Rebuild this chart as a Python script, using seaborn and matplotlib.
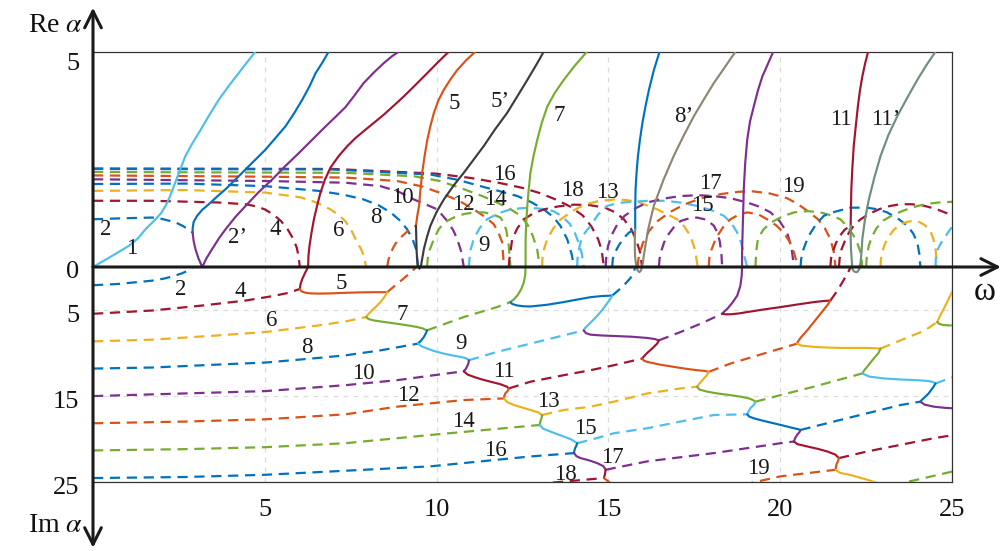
import numpy as np
import pandas as pd
import matplotlib
matplotlib.use("Agg")
import matplotlib.pyplot as plt
import matplotlib.transforms as mtrans
import seaborn as sns

sns.set_style("white")
plt.rcParams["font.family"] = ["Liberation Serif", "DejaVu Serif"]
plt.rcParams["mathtext.fontset"] = "stix"

BLUE, ORANGE, YELLOW, PURPLE = "#0072BD", "#D95319", "#EDB120", "#7E2F8E"
GREEN, LBLUE, DRED = "#77AC30", "#4DBEEE", "#A2142F"
BLACK5, KHAKI8, SAGE11 = "#3C3C3C", "#8E8672", "#6F8E7B"

# ---------------- upper half: real roots (Re alpha), solid ----------------
w_1 = [0, 0.56, 1.04, 1.3, 1.53, 1.82, 1.98, 2.11, 2.22, 2.32, 2.5, 2.69, 2.88, 3.08, 3.36, 3.66, 3.95, 4.24, 4.5, 4.73]
re_1 = [0, 0.26, 0.49, 0.66, 0.88, 1.11, 1.25, 1.42, 1.6, 1.81, 2.19, 2.58, 2.86, 3.12, 3.5, 3.89, 4.21, 4.51, 4.78, 5.01]
w_2 = [2.9, 2.9, 2.93, 3.03, 3.18, 3.37, 3.6, 3.86, 4.14, 4.44, 4.73, 5.02, 5.3, 5.6, 5.85, 6.09, 6.3, 6.48, 6.68, 6.86]
re_2 = [0.80, 0.9, 1.05, 1.19, 1.33, 1.46, 1.63, 1.81, 2.03, 2.27, 2.5, 2.73, 2.99, 3.27, 3.57, 3.89, 4.2, 4.51, 4.76, 5.01]
w_2p = [2.9, 2.93, 2.98, 3.07, 3.18, 3.3, 3.47, 3.66, 3.86, 4.14, 4.44, 4.82, 5.22, 5.6, 5.99, 6.38, 6.77, 7.07, 7.35, 7.62, 7.88, 8.17, 8.46, 8.7, 8.9]
re_2p = [0.80, 0.6, 0.42, 0.2, 0.0, 0.2, 0.42, 0.66, 0.88, 1.16, 1.42, 1.74, 2.04, 2.35, 2.65, 2.96, 3.27, 3.5, 3.72, 4.0, 4.28, 4.52, 4.74, 4.9, 5.01]
w_4 = [6.26, 6.27, 6.3, 6.36, 6.43, 6.52, 6.62, 6.75, 6.91, 7.15, 7.4, 7.64, 7.88, 8.17, 8.46, 8.75, 9.05, 9.38, 9.73, 10.05, 10.36]
re_4 = [0, 0.25, 0.49, 0.8, 1.11, 1.42, 1.73, 2.03, 2.31, 2.58, 2.81, 3.0, 3.16, 3.35, 3.54, 3.75, 3.97, 4.23, 4.51, 4.77, 5.01]
w_5 = [9.4, 9.44, 9.49, 9.53, 9.58, 9.65, 9.73, 9.82, 9.92, 10.05, 10.21, 10.4, 10.6, 10.85, 11.13]
re_5 = [0.96, 1.2, 1.42, 1.8, 2.19, 2.58, 2.96, 3.28, 3.58, 3.87, 4.12, 4.36, 4.58, 4.8, 5.01]
w_5p = [9.4, 9.41, 9.42, 9.45, 9.5, 9.55, 9.63, 9.72, 9.82, 10.0, 10.21, 10.5, 10.79, 11.08, 11.37, 11.7, 12.05, 12.35, 12.64, 12.9, 13.12]
re_5p = [0.96, 0.65, 0.34, 0.04, -0.04, 0.05, 0.42, 0.7, 0.96, 1.28, 1.57, 1.9, 2.19, 2.5, 2.81, 3.2, 3.58, 3.97, 4.35, 4.7, 5.01]
w_7 = [12.59, 12.59, 12.61, 12.64, 12.68, 12.73, 12.82, 12.93, 13.06, 13.22, 13.44, 13.7, 14.02, 14.38]
re_7 = [0, 0.65, 1.05, 1.42, 1.8, 2.19, 2.58, 2.96, 3.35, 3.73, 4.05, 4.35, 4.68, 5.01]
w_8 = [15.78, 15.78, 15.79, 15.82, 15.86, 15.92, 15.99, 16.08, 16.18, 16.32, 16.49]
re_8 = [0.88, 1.35, 1.81, 2.2, 2.58, 2.97, 3.35, 3.74, 4.12, 4.57, 5.01]
w_8p = [15.78, 15.77, 15.77, 15.78, 15.81, 15.85, 15.9, 15.95, 16.0, 16.03, 16.15, 16.32, 16.6, 16.9, 17.2, 17.49, 17.78, 18.07, 18.4, 18.7]
re_8p = [0.88, 0.65, 0.42, 0.2, 0.05, -0.08, -0.12, -0.08, 0.08, 0.26, 0.85, 1.42, 2.02, 2.58, 3.07, 3.51, 3.9, 4.28, 4.66, 5.01]
w_10 = [18.89, 18.89, 18.9, 18.92, 18.94, 18.98, 19.04, 19.12, 19.23, 19.35, 19.48, 19.64, 19.8]
re_10 = [0, 0.3, 0.65, 1.2, 1.81, 2.4, 2.96, 3.38, 3.73, 4.1, 4.43, 4.72, 5.01]
w_11 = [22.05, 22.06, 22.07, 22.1, 22.14, 22.2, 22.26, 22.32, 22.39, 22.47, 22.56]
re_11 = [0.96, 1.4, 1.81, 2.3, 2.81, 3.28, 3.73, 4.1, 4.43, 4.73, 5.01]
w_11p = [22.05, 22.05, 22.06, 22.1, 22.16, 22.24, 22.3, 22.34, 22.37, 22.39, 22.47, 22.58, 22.74, 22.92, 23.15, 23.41, 23.7, 23.99, 24.26, 24.52]
re_11p = [0.96, 0.7, 0.42, -0.05, -0.11, -0.12, -0.05, 0.11, 0.38, 0.65, 1.12, 1.57, 2.08, 2.58, 3.07, 3.51, 3.94, 4.35, 4.7, 5.01]

# ---------------- upper half: complex roots (Re alpha), dashed ----------------
wu2 = [0, 0.74, 1.72, 2.0, 2.2, 2.42, 2.6, 2.77, 2.9];      ru2 = [1.11, 1.13, 1.15, 1.12, 1.08, 1.03, 0.96, 0.88, 0.80]
wu4 = [0, 1.72, 3.66, 4.44, 4.75, 5.0, 5.25, 5.47, 5.67, 5.83, 5.93, 5.98, 6.02]
ru4 = [1.54, 1.54, 1.50, 1.46, 1.41, 1.34, 1.22, 1.07, 0.87, 0.65, 0.45, 0.26, 0]
wu6 = [0, 2.69, 5.02, 6.04, 6.5, 6.91, 7.15, 7.35, 7.54, 7.69, 7.8, 7.88, 7.95]
ru6 = [1.77, 1.79, 1.73, 1.62, 1.5, 1.34, 1.21, 1.06, 0.82, 0.57, 0.42, 0.26, 0]
wu8 = [0, 2.69, 5.02, 6.57, 7.3, 7.88, 8.3, 8.66, 8.92, 9.14, 9.3, 9.4, 9.46]
ru8 = [1.93, 1.94, 1.88, 1.77, 1.68, 1.57, 1.44, 1.27, 1.09, 0.88, 0.65, 0.42, 0]
wu10 = [0, 5.02, 7.35, 8.37, 8.9, 9.34, 9.7, 10.02, 10.31, 10.48, 10.6, 10.72, 10.79]
ru10 = [2.04, 2.0, 1.96, 1.88, 1.75, 1.57, 1.45, 1.34, 1.07, 0.86, 0.65, 0.35, 0]
wu12 = [0, 5.02, 7.35, 8.85, 9.6, 10.21, 10.7, 11.08, 11.4, 11.66, 11.8, 11.91, 11.96]
ru12 = [2.13, 2.10, 2.08, 2.0, 1.87, 1.69, 1.52, 1.34, 1.17, 1.0, 0.8, 0.57, 0]
wu14 = [0, 7.35, 9.34, 10.1, 10.79, 11.3, 11.76, 12.12, 12.45, 12.65, 12.8, 12.93, 13.0]
ru14 = [2.21, 2.19, 2.11, 2.0, 1.81, 1.66, 1.50, 1.36, 1.19, 0.98, 0.72, 0.4, 0]
wu16 = [0, 6.91, 9.82, 10.6, 11.28, 11.85, 12.35, 12.75, 13.12, 13.4, 13.6, 13.8, 13.93, 14.0]
ru16 = [2.28, 2.27, 2.15, 2.03, 1.88, 1.76, 1.65, 1.51, 1.34, 1.16, 0.96, 0.65, 0.3, 0]
wu18 = [0, 7.0, 10.0, 11.0, 11.8, 12.5, 13.0, 13.5, 13.9, 14.25, 14.5, 14.7, 14.8, 14.87]
ru18 = [2.29, 2.28, 2.17, 2.07, 1.96, 1.84, 1.72, 1.56, 1.40, 1.2, 0.95, 0.65, 0.4, 0]
wu5 = [8.56, 8.6, 8.65, 8.75, 8.85, 9.0, 9.14, 9.28, 9.4];  ru5 = [0, 0.17, 0.3, 0.47, 0.6, 0.72, 0.82, 0.9, 0.96]
wu7 = [9.72, 9.75, 9.8, 9.92, 10.05, 10.21, 10.5, 10.79, 11.08, 11.37, 11.62, 11.86, 11.95, 12.03, 12.1, 12.15]
ru7 = [0, 0.25, 0.4, 0.65, 0.86, 1.03, 1.15, 1.23, 1.27, 1.27, 1.23, 1.15, 1.03, 0.85, 0.5, 0]
wu9 = [10.94, 10.96, 10.99, 11.08, 11.25, 11.47, 11.8, 12.15, 12.5, 12.8, 13.1, 13.4, 13.65, 13.88, 14.02, 14.14, 14.23, 14.28]
ru9 = [0, 0.22, 0.4, 0.65, 0.9, 1.11, 1.25, 1.34, 1.37, 1.37, 1.35, 1.3, 1.18, 1.0, 0.8, 0.55, 0.3, 0]
wu11 = [12.10, 12.12, 12.15, 12.2, 12.35, 12.54, 12.8, 13.12, 13.55, 14.0, 14.45, 14.9, 15.2, 15.45, 15.65, 15.8, 15.92, 15.98]
ru11 = [0, 0.2, 0.35, 0.65, 0.9, 1.11, 1.24, 1.34, 1.41, 1.45, 1.44, 1.38, 1.27, 1.11, 0.9, 0.65, 0.35, 0]
wu13 = [13.07, 13.08, 13.1, 13.2, 13.38, 13.6, 13.95, 14.3, 14.7, 15.16, 15.5, 15.9, 16.42, 16.7, 17.0, 17.2, 17.39, 17.52, 17.6]
ru13 = [0, 0.2, 0.35, 0.6, 0.88, 1.1, 1.3, 1.45, 1.53, 1.57, 1.56, 1.5, 1.34, 1.23, 1.11, 0.95, 0.72, 0.4, 0]
wu15 = [14.09, 14.1, 14.12, 14.2, 14.32, 14.48, 14.7, 14.96, 15.3, 15.74, 16.2, 16.62, 17.1, 17.58, 18.0, 18.36, 18.58, 18.75, 18.87, 18.94, 19.04]
ru15 = [0, 0.18, 0.35, 0.6, 0.8, 0.96, 1.22, 1.42, 1.49, 1.52, 1.54, 1.54, 1.5, 1.42, 1.32, 1.19, 1.02, 0.80, 0.55, 0.3, 0]
wu17 = [14.92, 14.93, 14.95, 14.99, 15.1, 15.25, 15.47, 15.8, 16.13, 16.6, 17.1, 17.6, 18.07, 18.55, 19.04, 19.4, 19.72, 19.98, 20.2, 20.33, 20.4]
ru17 = [0, 0.15, 0.3, 0.49, 0.75, 0.98, 1.19, 1.37, 1.50, 1.59, 1.65, 1.67, 1.65, 1.6, 1.50, 1.4, 1.27, 1.07, 0.80, 0.45, 0]
wu19 = [15.85, 15.87, 15.9, 16.0, 16.18, 16.4, 16.8, 17.2, 17.7, 18.3, 18.8, 19.2, 19.7, 20.2, 20.5, 20.8, 21.1, 21.3, 21.46, 21.56, 21.61]
ru19 = [0, 0.16, 0.3, 0.55, 0.83, 1.05, 1.28, 1.45, 1.6, 1.7, 1.75, 1.76, 1.71, 1.6, 1.47, 1.3, 1.11, 0.9, 0.65, 0.35, 0]
wu8c = [15.11, 15.13, 15.2, 15.3, 15.4, 15.5, 15.6, 15.7, 15.78]; ru8c = [0, 0.2, 0.35, 0.5, 0.62, 0.72, 0.8, 0.85, 0.88]
wu10c = [16.47, 16.49, 16.55, 16.62, 16.71, 16.9, 17.1, 17.35, 17.58, 17.85, 18.07, 18.17, 18.24, 18.29, 18.31]
ru10c = [0, 0.2, 0.4, 0.57, 0.72, 0.92, 1.07, 1.13, 1.15, 1.1, 0.96, 0.8, 0.6, 0.3, 0]
wu12c = [17.92, 17.94, 18.0, 18.08, 18.17, 18.35, 18.55, 18.8, 19.04, 19.35, 19.62, 19.88, 20.1, 20.28, 20.4, 20.46, 20.49]
ru12c = [0, 0.22, 0.4, 0.57, 0.72, 0.94, 1.11, 1.22, 1.27, 1.23, 1.11, 0.97, 0.8, 0.58, 0.34, 0.17, 0]
wu14c = [19.28, 19.3, 19.35, 19.5, 19.72, 20.05, 20.4, 20.8, 21.17, 21.48, 21.75, 21.97, 22.14, 22.26, 22.34, 22.37, 22.39]
ru14c = [0, 0.35, 0.65, 0.86, 1.03, 1.17, 1.27, 1.3, 1.27, 1.2, 1.11, 0.93, 0.72, 0.52, 0.34, 0.17, 0]
wu16c = [20.59, 20.61, 20.65, 20.74, 20.85, 21.05, 21.27, 21.45, 21.66, 22.05, 22.53, 22.85, 23.11, 23.42, 23.7, 23.87, 23.99, 24.05, 24.08]
ru16c = [0, 0.18, 0.35, 0.55, 0.75, 1.0, 1.19, 1.25, 1.3, 1.38, 1.38, 1.34, 1.27, 1.13, 0.96, 0.78, 0.57, 0.3, 0]
wu18c = [21.71, 21.73, 21.78, 21.88, 22.0, 22.15, 22.34, 22.6, 22.9, 23.2, 23.5, 23.8, 24.1, 24.35, 24.6, 24.85, 25.1]
ru18c = [0, 0.2, 0.4, 0.6, 0.8, 0.97, 1.11, 1.24, 1.35, 1.42, 1.46, 1.46, 1.44, 1.39, 1.33, 1.25, 1.15]
wu20c = [22.5, 22.52, 22.58, 22.68, 22.8, 23.0, 23.3, 23.65, 24.0, 24.3, 24.6, 24.85, 25.1]
ru20c = [0, 0.25, 0.5, 0.72, 0.9, 1.08, 1.22, 1.33, 1.42, 1.47, 1.5, 1.51, 1.52]
wu11d = [21.46, 21.48, 21.55, 21.62, 21.7, 21.8, 21.88, 21.97, 22.05]; ru11d = [0, 0.2, 0.4, 0.55, 0.68, 0.79, 0.87, 0.92, 0.96]
wu13d = [22.92, 22.93, 22.97, 23.03, 23.11, 23.3, 23.5, 23.75, 23.99, 24.2, 24.37, 24.46, 24.52, 24.55, 24.57]
ru13d = [0, 0.18, 0.35, 0.5, 0.65, 0.86, 1.0, 1.06, 1.07, 0.98, 0.84, 0.65, 0.42, 0.2, 0]
wu15d = [24.52, 24.53, 24.58, 24.66, 24.76, 24.9, 25.1];    ru15d = [0, 0.2, 0.4, 0.53, 0.65, 0.82, 1.05]

# ---------------- lower half: complex roots (Im alpha), dashed ----------------
wl2 = [0, 0.74, 1.72, 2.1, 2.35, 2.58, 2.75, 2.85, 2.9];   il2 = [2.12, 1.97, 1.59, 1.32, 1.05, 0.75, 0.45, 0.2, 0]
wl4 = [0, 1.72, 3.18, 4.44, 5.22, 5.7, 6.02];              il4 = [5.44, 5.06, 4.48, 3.90, 3.39, 3.0, 2.55]
wl6 = [0, 1.72, 3.66, 5.02, 6.57, 7.35, 7.95];             il6 = [8.65, 8.45, 7.95, 7.56, 6.79, 6.33, 5.82]
wl8 = [0, 1.72, 3.66, 5.02, 6.57, 7.35, 8.37, 9.46];       il8 = [11.81, 11.69, 11.34, 11.11, 10.57, 10.27, 9.69, 8.91]
wl10 = [0, 2.69, 5.02, 7.35, 8.85, 10.79];                 il10 = [15.01, 14.70, 14.43, 13.74, 13.16, 12.12]
wl12 = [0, 2.69, 5.02, 7.35, 8.85, 10.79, 11.96];          il12 = [18.17, 17.97, 17.71, 17.13, 16.24, 15.47, 15.28]
wl14 = [0, 2.69, 5.02, 7.35, 9.82, 13.0];                  il14 = [21.33, 21.18, 20.95, 20.49, 19.53, 18.37]
wl16 = [0, 2.69, 5.02, 7.35, 9.82, 12.73, 14.0];           il16 = [24.54, 24.42, 24.16, 23.69, 23.18, 22.03, 21.64]
wl18 = [8.0, 10.5, 12.73, 14.87];                          il18 = [27.0, 26.3, 25.3, 24.54]
dl5 = [8.56, 8.85, 9.14, 9.3, 9.4];                        jl5 = [2.93, 1.97, 1.0, 0.45, 0]
dl7 = [9.72, 10.79, 11.76, 12.15];                         jl7 = [7.37, 5.82, 4.66, 4.08]
dl9 = [10.94, 11.76, 12.73, 13.70, 14.28];                 jl9 = [10.84, 9.87, 8.91, 7.95, 7.37]
dl11 = [12.10, 12.73, 13.70, 14.48, 15.16, 15.98];         jl11 = [14.12, 13.34, 12.58, 12.0, 11.42, 10.65]
dl13 = [13.07, 13.70, 14.48, 15.16, 16.13, 17.1, 17.58];   jl13 = [17.21, 16.63, 16.24, 15.66, 14.70, 14.12, 13.92]
dl15 = [14.09, 14.48, 15.16, 16.13, 17.1, 18.07, 19.04];   jl15 = [20.49, 20.1, 19.33, 18.75, 17.97, 17.21, 17.13]
dl17 = [14.92, 16.13, 18.07, 20.01, 20.40];                jl17 = [23.58, 22.6, 21.64, 20.49, 20.29]
dl19 = [17.0, 18.94, 20.01, 21.61];                        jl19 = [26.8, 25.31, 24.34, 23.58]
d2_8 = [15.11, 15.4, 15.64, 15.74, 15.78];                 k2_8 = [3.32, 2.35, 1.3, 0.6, 0]
d2_10 = [16.47, 17.1, 17.68, 18.31];                       k2_10 = [8.53, 7.56, 6.6, 5.44]
d2_12 = [17.92, 18.55, 19.52, 20.49];                      k2_12 = [12.19, 11.23, 10.07, 8.91]
d2_14 = [19.28, 20.2, 20.98, 21.56, 22.39];                k2_14 = [15.66, 14.70, 13.92, 13.28, 12.38]
d2_16 = [20.59, 21.56, 22.53, 23.5, 24.08];                k2_16 = [18.95, 17.97, 17.01, 16.05, 15.66]
d2_18 = [21.71, 22.53, 23.5, 24.47, 25.1];                 k2_18 = [22.22, 21.45, 20.68, 19.91, 19.5]
d2_20 = [22.3, 23.31, 23.99, 25.1];                        k2_20 = [25.9, 25.31, 24.73, 23.7]
d3_11 = [21.46, 21.66, 21.85, 21.98, 22.05];               k3_11 = [3.9, 2.78, 1.5, 0.6, 0]
d3_13 = [22.92, 23.5, 24.2, 24.57];                        k3_13 = [9.49, 8.53, 7.4, 6.4]
d3_15 = [24.52, 25.1];                                     k3_15 = [13.54, 12.7]

# ---------------- lower half: imaginary roots (Im alpha), solid ----------------
s1_4 = [6.02, 6.04, 6.09, 6.17, 6.23, 6.26];     t1_4 = [2.55, 2.0, 1.39, 0.7, 0.23, 0]
s1_5 = [6.02, 6.05, 6.1, 6.2, 6.33, 6.6, 6.91, 7.35, 7.79, 8.2, 8.56]
t1_5 = [2.55, 2.75, 2.89, 3.0, 3.07, 3.09, 3.07, 3.0, 2.95, 2.93, 2.93]
s1_6 = [8.56, 8.53, 8.46, 8.36, 8.24, 8.12, 8.03, 7.97, 7.95]; t1_6 = [2.93, 3.2, 3.6, 4.1, 4.6, 5.05, 5.42, 5.68, 5.82]
s1_7 = [7.95, 8.02, 8.17, 8.45, 8.85, 9.15, 9.44, 9.6, 9.72];  t1_7 = [5.82, 6.05, 6.21, 6.38, 6.60, 6.78, 6.98, 7.15, 7.37]
s1_8 = [9.72, 9.69, 9.63, 9.55, 9.49, 9.46];     t1_8 = [7.37, 7.7, 8.14, 8.55, 8.78, 8.91]
s1_9 = [9.46, 9.55, 9.73, 9.95, 10.21, 10.45, 10.7, 10.85, 10.94]; t1_9 = [8.91, 9.2, 9.49, 9.8, 10.07, 10.28, 10.45, 10.6, 10.84]
s1_10 = [10.94, 10.93, 10.9, 10.85, 10.79];      t1_10 = [10.84, 11.15, 11.46, 11.85, 12.12]
s1_11 = [10.79, 10.9, 11.08, 11.3, 11.57, 11.85, 12.05, 12.10]; t1_11 = [12.12, 12.5, 12.77, 13.05, 13.34, 13.62, 13.92, 14.12]
s1_12 = [12.10, 12.07, 12.0, 11.97, 11.96];      t1_12 = [14.12, 14.4, 14.70, 15.0, 15.28]
s1_13 = [11.96, 12.05, 12.25, 12.5, 12.73, 12.95, 13.07]; t1_13 = [15.28, 15.7, 16.05, 16.35, 16.63, 16.9, 17.21]
s1_14 = [13.07, 13.06, 13.03, 13.01, 13.0];      t1_14 = [17.21, 17.5, 17.82, 18.1, 18.37]
s1_15 = [13.0, 13.1, 13.31, 13.5, 13.7, 13.92, 14.09]; t1_15 = [18.37, 18.8, 19.13, 19.42, 19.71, 20.05, 20.49]
s1_16 = [14.09, 14.07, 14.03, 14.01, 14.0];      t1_16 = [20.49, 20.77, 21.06, 21.35, 21.64]
s1_17 = [14.0, 14.07, 14.19, 14.45, 14.67, 14.85, 14.92]; t1_17 = [21.64, 22.0, 22.22, 22.5, 22.8, 23.15, 23.58]
s1_18 = [14.92, 14.9, 14.87];                    t1_18 = [23.58, 24.1, 24.54]
s1_19 = [14.87, 15.06, 15.35];                   t1_19 = [24.54, 25.12, 25.69]
s2_7 = [12.15, 12.25, 12.35, 12.46, 12.54, 12.58, 12.59]; t2_7 = [4.08, 3.75, 3.32, 2.6, 1.77, 0.9, 0]
s2_8 = [12.15, 12.2, 12.35, 12.55, 12.73, 13.2, 13.70, 14.1, 14.48, 14.8, 15.11]
t2_8 = [4.08, 4.3, 4.48, 4.57, 4.59, 4.4, 4.08, 3.78, 3.51, 3.38, 3.32]
s2_9 = [15.11, 15.05, 14.95, 14.8, 14.6, 14.42, 14.32, 14.28]; t2_9 = [3.32, 3.75, 4.3, 5.1, 6.0, 6.7, 7.1, 7.37]
s2_10 = [14.28, 14.35, 14.48, 14.8, 15.16, 15.65, 16.13, 16.35, 16.47]; t2_10 = [7.37, 7.7, 7.87, 7.96, 8.02, 8.1, 8.25, 8.38, 8.53]
s2_11 = [16.47, 16.42, 16.27, 16.1, 16.02, 15.98]; t2_11 = [8.53, 8.9, 9.49, 10.1, 10.45, 10.65]
s2_12 = [15.98, 16.03, 16.13, 16.5, 16.9, 17.25, 17.58, 17.8, 17.92]; t2_12 = [10.65, 10.88, 11.03, 11.35, 11.61, 11.83, 12.0, 12.08, 12.19]
s2_13 = [17.92, 17.88, 17.78, 17.65, 17.58];     t2_13 = [12.19, 12.5, 12.96, 13.55, 13.92]
s2_14 = [17.58, 17.65, 17.88, 18.2, 18.55, 18.85, 19.09, 19.2, 19.28]; t2_14 = [13.92, 14.25, 14.5, 14.72, 14.9, 15.08, 15.28, 15.45, 15.66]
s2_15 = [19.28, 19.24, 19.13, 19.07, 19.04];     t2_15 = [15.66, 16.0, 16.43, 16.85, 17.13]
s2_16 = [19.04, 19.1, 19.23, 19.5, 19.81, 20.1, 20.40, 20.52, 20.59]; t2_16 = [17.13, 17.4, 17.59, 17.88, 18.17, 18.45, 18.75, 18.85, 18.95]
s2_17 = [20.59, 20.56, 20.49, 20.43, 20.40];     t2_17 = [18.95, 19.2, 19.53, 19.95, 20.29]
s2_18 = [20.40, 20.5, 20.79, 21.1, 21.37, 21.6, 21.71]; t2_18 = [20.29, 20.6, 20.87, 21.15, 21.45, 21.8, 22.22]
s2_19 = [21.71, 21.68, 21.64, 21.61];            t2_19 = [22.22, 22.6, 22.92, 23.58]
s2_20 = [21.61, 21.75, 22.05, 22.53, 22.92];     t2_20 = [23.58, 23.95, 24.19, 24.73, 25.23]
s3_10 = [18.31, 18.38, 18.46, 18.6, 18.75, 18.84, 18.88, 18.89]; t3_10 = [5.44, 5.15, 4.86, 4.2, 3.32, 2.2, 1.0, 0]
s3_11 = [18.31, 18.4, 18.55, 18.8, 19.04, 19.5, 20.01, 20.5, 20.98, 21.25, 21.46]
t3_11 = [5.44, 5.5, 5.5, 5.4, 5.24, 4.95, 4.66, 4.36, 4.08, 3.96, 3.90]
s3_12 = [21.46, 21.38, 21.2, 20.98, 20.8, 20.6, 20.52, 20.49]; t3_12 = [3.90, 4.4, 5.3, 6.4, 7.3, 8.2, 8.65, 8.91]
s3_13 = [20.49, 20.6, 20.98, 21.4, 21.75, 22.15, 22.53, 22.75, 22.92]; t3_13 = [8.91, 9.12, 9.29, 9.37, 9.41, 9.41, 9.41, 9.44, 9.49]
s3_14 = [22.92, 22.86, 22.72, 22.55, 22.45, 22.39]; t3_14 = [9.49, 10.0, 10.65, 11.5, 12.0, 12.38]
s3_15 = [22.39, 22.6, 23.02, 23.5, 23.99, 24.3, 24.45, 24.52]; t3_15 = [12.38, 12.75, 12.96, 13.08, 13.16, 13.25, 13.38, 13.54]
s3_16 = [24.52, 24.45, 24.32, 24.18, 24.11, 24.08]; t3_16 = [13.54, 14.0, 14.7, 15.25, 15.5, 15.66]
s3_17 = [24.08, 24.2, 24.47, 24.8, 25.1];        t3_17 = [15.66, 16.0, 16.24, 16.38, 16.44]
s4_13 = [24.57, 24.65, 24.76, 24.88, 25.0, 25.13]; t4_13 = [6.4, 5.7, 4.86, 3.9, 2.93, 1.97]
s4_14 = [24.57, 24.63, 24.76, 24.9, 25.1];       t4_14 = [6.4, 6.62, 6.75, 6.79, 6.79]

# ---------------- curve labels ----------------
up_lab_text = ["1", "2", "2\u2019", "4", "6", "8", "10", "12", "14", "16", "18", "9", "5", "5\u2019",
               "7", "13", "8\u2019", "17", "15", "19", "11", "11\u2019"]
up_lab_w = [1.14, 0.38, 4.2, 5.31, 7.15, 8.22, 9.0, 10.79, 11.71, 11.98, 13.95, 11.37, 10.52, 11.86,
            13.56, 14.98, 17.19, 17.97, 17.73, 20.38, 21.76, 23.06]
up_lab_re = [0.42, 0.88, 0.69, 0.88, 0.84, 1.15, 1.61, 1.46, 1.57, 2.15, 1.79, 0.49, 3.81, 3.85,
             3.52, 1.74, 3.5, 1.94, 1.42, 1.88, 3.44, 3.44]
lo_lab_text = ["2", "4", "5", "6", "7", "8", "9", "10", "11", "12", "13", "14", "15", "16", "17", "18", "19"]
lo_lab_w = [2.55, 4.29, 7.22, 5.2, 9.0, 6.23, 10.7, 7.88, 11.96, 9.19, 13.24, 10.79, 14.33, 11.71, 15.11, 13.75, 19.38]
lo_lab_im = [2.62, 2.86, 1.97, 6.21, 5.56, 9.41, 8.91, 12.38, 12.12, 14.9, 15.66, 17.98, 18.83, 21.37, 22.14, 24.15, 23.38]

x_ticks = [5, 10, 15, 20, 25]
y_tick_vals = [5, 0, 5, 15, 25]          # Re 5, 0 | Im 5, 15, 25
y_tick_half = ["re", "re", "im", "im", "im"]

# ---------------- assemble table ----------------
upper_solid = [(w_1, re_1, LBLUE), (w_2, re_2, BLUE), (w_2p, re_2p, PURPLE), (w_4, re_4, DRED),
               (w_5, re_5, ORANGE), (w_5p, re_5p, BLACK5), (w_7, re_7, GREEN), (w_8, re_8, BLUE),
               (w_8p, re_8p, KHAKI8), (w_10, re_10, PURPLE), (w_11, re_11, DRED), (w_11p, re_11p, SAGE11)]
upper_dash = [(wu18, ru18, DRED), (wu2, ru2, BLUE), (wu4, ru4, DRED), (wu6, ru6, YELLOW), (wu8, ru8, BLUE),
              (wu10, ru10, PURPLE), (wu12, ru12, ORANGE), (wu14, ru14, GREEN), (wu16, ru16, BLUE),
              (wu5, ru5, ORANGE), (wu7, ru7, GREEN), (wu9, ru9, LBLUE), (wu11, ru11, DRED), (wu13, ru13, YELLOW),
              (wu15, ru15, LBLUE), (wu17, ru17, PURPLE), (wu19, ru19, ORANGE), (wu8c, ru8c, BLUE),
              (wu10c, ru10c, PURPLE), (wu12c, ru12c, ORANGE), (wu14c, ru14c, GREEN), (wu16c, ru16c, BLUE),
              (wu18c, ru18c, DRED), (wu20c, ru20c, GREEN), (wu11d, ru11d, DRED), (wu13d, ru13d, YELLOW),
              (wu15d, ru15d, LBLUE)]
lower_dash = [(wl2, il2, BLUE), (wl4, il4, DRED), (wl6, il6, YELLOW), (wl8, il8, BLUE), (wl10, il10, PURPLE),
              (wl12, il12, ORANGE), (wl14, il14, GREEN), (wl16, il16, BLUE), (wl18, il18, DRED),
              (dl5, jl5, ORANGE), (dl7, jl7, GREEN), (dl9, jl9, LBLUE), (dl11, jl11, DRED), (dl13, jl13, YELLOW),
              (dl15, jl15, LBLUE), (dl17, jl17, PURPLE), (dl19, jl19, ORANGE), (d2_8, k2_8, BLUE),
              (d2_10, k2_10, PURPLE), (d2_12, k2_12, ORANGE), (d2_14, k2_14, GREEN), (d2_16, k2_16, BLUE),
              (d2_18, k2_18, DRED), (d2_20, k2_20, GREEN), (d3_11, k3_11, DRED), (d3_13, k3_13, YELLOW),
              (d3_15, k3_15, LBLUE)]
lower_solid = [(s1_4, t1_4, DRED), (s1_5, t1_5, ORANGE), (s1_6, t1_6, YELLOW), (s1_7, t1_7, GREEN),
               (s1_8, t1_8, BLUE), (s1_9, t1_9, LBLUE), (s1_10, t1_10, PURPLE), (s1_11, t1_11, DRED),
               (s1_12, t1_12, ORANGE), (s1_13, t1_13, YELLOW), (s1_14, t1_14, GREEN), (s1_15, t1_15, LBLUE),
               (s1_16, t1_16, BLUE), (s1_17, t1_17, PURPLE), (s1_18, t1_18, DRED), (s1_19, t1_19, ORANGE),
               (s2_7, t2_7, GREEN), (s2_8, t2_8, BLUE), (s2_9, t2_9, LBLUE), (s2_10, t2_10, PURPLE),
               (s2_11, t2_11, DRED), (s2_12, t2_12, ORANGE), (s2_13, t2_13, YELLOW), (s2_14, t2_14, GREEN),
               (s2_15, t2_15, LBLUE), (s2_16, t2_16, BLUE), (s2_17, t2_17, PURPLE), (s2_18, t2_18, DRED),
               (s2_19, t2_19, ORANGE), (s2_20, t2_20, YELLOW), (s3_10, t3_10, PURPLE), (s3_11, t3_11, DRED),
               (s3_12, t3_12, ORANGE), (s3_13, t3_13, YELLOW), (s3_14, t3_14, GREEN), (s3_15, t3_15, LBLUE),
               (s3_16, t3_16, BLUE), (s3_17, t3_17, PURPLE), (s4_13, t4_13, YELLOW), (s4_14, t4_14, GREEN)]

IM_SCALE = 5.0   # lower half drawn as -Im/5 so both halves span 5 units

rows = []
cid = 0
for group, lower, dashed in [(upper_dash, False, True), (lower_dash, True, True),
                             (upper_solid, False, False), (lower_solid, True, False)]:
    for w, v, c in group:
        vv = np.asarray(v, float)
        yy = -vv / IM_SCALE if lower else vv
        for i, (a, b) in enumerate(zip(w, yy)):
            rows.append(dict(cid=cid, order=i, omega=a, y=b, color=c, dashed=dashed))
        cid += 1
df = pd.DataFrame(rows)

# ---------------- figure ----------------
W, H = 1005, 551
fig = plt.figure(figsize=(W / 100, H / 100), dpi=100)
L, R, T, B = 93, 952, 52, 482
ax = fig.add_axes([L / W, 1 - B / H, (R - L) / W, (B - T) / H])
ax.set_xlim(0, 25)
ax.set_ylim(-5, 5)

for (c, d), sub in df.groupby(["cid", "dashed"], sort=False):
    sub = sub.sort_values("order")
    col = sub["color"].iloc[0]
    if d:
        sns.lineplot(data=sub, x="omega", y="y", sort=False, estimator=None, ax=ax, color=col,
                     linewidth=1.6, linestyle=(0, (4.6, 3.0)), legend=False, zorder=2)
    else:
        sns.lineplot(data=sub, x="omega", y="y", sort=False, estimator=None, ax=ax, color=col,
                     linewidth=1.55, legend=False, zorder=3, solid_capstyle="round",
                     solid_joinstyle="round")

ax.set_xlabel("")
ax.set_ylabel("")

# ticks / grid
ax.set_xticks(x_ticks)
ax.set_xticklabels([str(t) for t in x_ticks])
ypos = [v if h == "re" else -v / IM_SCALE for v, h in zip(y_tick_vals, y_tick_half)]
ax.set_yticks(ypos)
ax.set_yticklabels([str(v) for v in y_tick_vals])
ax.grid(True, color="#DCDCDC", linestyle=(0, (4, 4)), linewidth=0.9, zorder=0)
ax.set_axisbelow(True)
ax.tick_params(axis="both", direction="in", length=6, width=0.8, color="#777777",
               labelsize=19, labelcolor="#111111")
ax.tick_params(axis="x", pad=12)
ax.tick_params(axis="y", pad=10)
for k, lab in enumerate(ax.get_yticklabels()):
    dy = -0.10 if k == 0 else -0.03
    lab.set_transform(lab.get_transform() + mtrans.ScaledTranslation(0, dy, fig.dpi_scale_trans))

for s in ["top", "right", "bottom"]:
    ax.spines[s].set_color("#333333")
    ax.spines[s].set_linewidth(0.9)
ax.spines["left"].set_visible(False)

# thick axes with arrows
arrow_kw = dict(arrowstyle="->", lw=2.2, color="#1a1a1a", shrinkA=0, shrinkB=0, mutation_scale=30)
ax.annotate("", xy=(1.057, 0.5), xytext=(0, 0.5), xycoords="axes fraction", arrowprops=arrow_kw, zorder=5)
ax.annotate("", xy=(0, 1.103), xytext=(0, 0.5), xycoords="axes fraction", arrowprops=arrow_kw, zorder=5)
ax.annotate("", xy=(0, -0.153), xytext=(0, 0.5), xycoords="axes fraction", arrowprops=arrow_kw, zorder=5)

# curve labels
for s, xw, yr in zip(up_lab_text, up_lab_w, up_lab_re):
    ax.text(xw, yr, s, ha="center", va="center", fontsize=16.5, color="#1a1a1a", zorder=6)
for s, xw, yi in zip(lo_lab_text, lo_lab_w, lo_lab_im):
    ax.text(xw, -yi / IM_SCALE, s, ha="center", va="center", fontsize=16.5, color="#1a1a1a", zorder=6)

# axis titles
fig.text(55 / W, 1 - 25 / H, r"Re $\alpha$", ha="center", va="center", fontsize=20, color="#111111")
fig.text(55 / W, 1 - 525 / H, r"Im $\alpha$", ha="center", va="center", fontsize=20, color="#111111")
fig.text(985 / W, 1 - 292 / H, "\u03c9", ha="center", va="center", fontsize=24, color="#111111")

fig.savefig("out.png", dpi=100, facecolor="white")
